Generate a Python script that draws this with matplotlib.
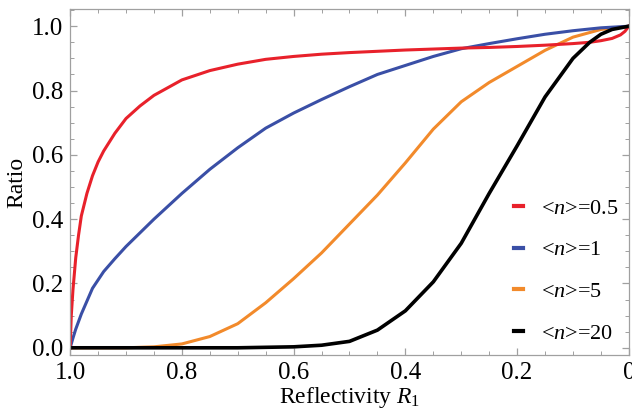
import matplotlib
matplotlib.use("Agg")
import matplotlib.pyplot as plt
from matplotlib.lines import Line2D
from matplotlib.ticker import MultipleLocator

plt.rcParams['font.family'] = ['Liberation Serif', 'DejaVu Serif']
plt.rcParams['mathtext.fontset'] = 'custom'
plt.rcParams['mathtext.rm'] = 'Liberation Serif'
plt.rcParams['mathtext.it'] = 'Liberation Serif:italic'

# values (R1, ratio)
r_red = [1.0, 0.998, 0.995, 0.99, 0.985, 0.98, 0.97, 0.96, 0.95, 0.94, 0.92, 0.9,
         0.875, 0.85, 0.8, 0.75, 0.7, 0.65, 0.6, 0.55, 0.5, 0.45, 0.4, 0.35, 0.3,
         0.25, 0.2, 0.15, 0.1, 0.07, 0.05, 0.03, 0.015, 0.007, 0.0]
y_red = [0.0, 0.1, 0.18, 0.28, 0.35, 0.41, 0.48, 0.535, 0.578, 0.612, 0.667, 0.713,
         0.752, 0.785, 0.833, 0.862, 0.882, 0.897, 0.906, 0.913, 0.918, 0.922, 0.926,
         0.929, 0.932, 0.934, 0.937, 0.941, 0.946, 0.95, 0.955, 0.962, 0.973, 0.984, 1.0]

r_blue = [1.0, 0.995, 0.99, 0.98, 0.96, 0.94, 0.92, 0.9, 0.85, 0.8, 0.75, 0.7,
          0.65, 0.6, 0.55, 0.5, 0.45, 0.4, 0.35, 0.3, 0.25, 0.2, 0.15, 0.1, 0.05, 0.0]
y_blue = [0.0, 0.03, 0.058, 0.105, 0.185, 0.237, 0.277, 0.315, 0.4, 0.48, 0.555,
          0.622, 0.683, 0.73, 0.772, 0.812, 0.85, 0.878, 0.906, 0.93, 0.946, 0.961,
          0.975, 0.986, 0.995, 1.0]

r_orange = [1.0, 0.9, 0.85, 0.8, 0.75, 0.7, 0.65, 0.6, 0.55, 0.5, 0.45, 0.4, 0.35,
            0.3, 0.25, 0.2, 0.15, 0.1, 0.05, 0.0]
y_orange = [0.0, 0.0, 0.003, 0.012, 0.035, 0.075, 0.14, 0.215, 0.295, 0.385, 0.475,
            0.575, 0.68, 0.765, 0.825, 0.875, 0.925, 0.966, 0.99, 1.0]

r_black = [1.0, 0.7, 0.6, 0.55, 0.5, 0.45, 0.4, 0.35, 0.3, 0.25, 0.2, 0.15, 0.1,
           0.07, 0.05, 0.03, 0.0]
y_black = [0.0, 0.0, 0.003, 0.008, 0.02, 0.055, 0.115, 0.205, 0.325, 0.48, 0.628,
           0.78, 0.9, 0.95, 0.975, 0.99, 1.0]

labels = [r'<$n$>=0.5', r'<$n$>=1', r'<$n$>=5', r'<$n$>=20']
colors = ['#e8212b', '#3a4fa6', '#f28a2b', '#000000']

fig = plt.figure(figsize=(6.32, 4.17), dpi=100)
ax = fig.add_axes([0.111, 0.149, 0.884, 0.829])

ax.plot(r_orange, y_orange, color=colors[2], lw=2.2)
ax.plot(r_blue, y_blue, color=colors[1], lw=2.2)
ax.plot(r_red, y_red, color=colors[0], lw=2.2)
ax.plot(r_black, y_black, color=colors[3], lw=2.6)

ax.set_xlim(1.0, 0.0)
ax.set_ylim(-0.022, 1.053)
ax.xaxis.set_major_locator(MultipleLocator(0.2))
ax.xaxis.set_minor_locator(MultipleLocator(0.05))
ax.yaxis.set_major_locator(MultipleLocator(0.2))
ax.yaxis.set_minor_locator(MultipleLocator(0.05))
ax.set_xticks([1.0, 0.8, 0.6, 0.4, 0.2, 0.0])
ax.set_xticklabels(['1.0', '0.8', '0.6', '0.4', '0.2', '0'])

for s in ax.spines.values():
    s.set_color('#a0a0a0')
    s.set_linewidth(0.9)
ax.tick_params(which='both', direction='in', top=True, right=True,
               color='#a0a0a0', labelsize=18)
ax.tick_params(which='major', length=5, width=0.9, pad=5)
ax.tick_params(which='minor', length=3, width=0.7)

ax.set_xlabel(r'Reflectivity $R_1$', fontsize=17, labelpad=1)
ax.set_ylabel('Ratio', fontsize=17, labelpad=3)

handles = [Line2D([0], [0], color=c, lw=3) for c in colors]
ax.legend(handles, labels, loc='center left', bbox_to_anchor=(0.775, 0.243),
          frameon=False, fontsize=16, handlelength=0.4, handletextpad=0.8,
          labelspacing=0.95, borderpad=0)

fig.savefig('out.png', dpi=100)
